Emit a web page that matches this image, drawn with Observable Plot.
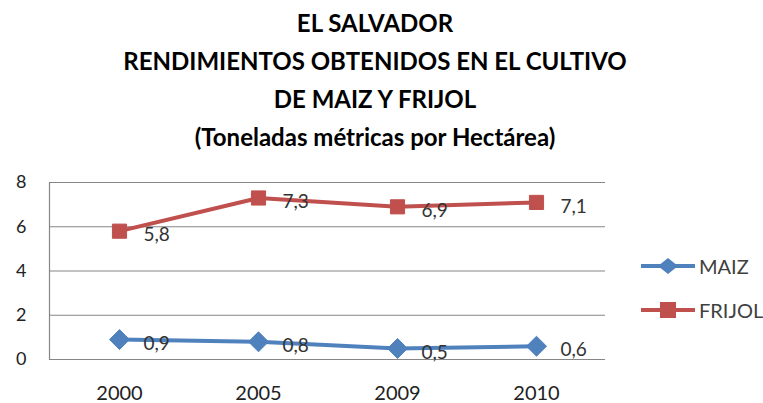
<!DOCTYPE html>
<html>
<head>
<meta charset="utf-8">
<script src="https://cdn.jsdelivr.net/npm/d3@7"></script>
<script src="https://cdn.jsdelivr.net/npm/@observablehq/plot@0.6"></script>
<style>
  html, body { margin: 0; padding: 0; background: #fff; overflow: hidden; }
  #wrap { position: relative; width: 763px; height: 403px; overflow: hidden; font-family: Lato, "Open Sans", sans-serif; }
  #title { position: absolute; left: 0; top: 4px; width: 750px; text-align: center; font-weight: bold; font-size: 24px; line-height: 38px; color: #000; }
  #chart { position: absolute; left: 0; top: 165px; }
  .leg { position: absolute; left: 639px; height: 24px; display: flex; align-items: center; font-size: 20px; color: #404040; white-space: nowrap; }
  .leg span { margin-left: 2px; }
</style>
</head>
<body>
<div id="wrap">
  <div id="title">EL SALVADOR<br>RENDIMIENTOS OBTENIDOS EN EL CULTIVO<br>DE MAIZ Y FRIJOL<br>(Toneladas métricas por Hectárea)</div>
  <div id="chart"></div>
  <div class="leg" style="top:254px"><svg width="58" height="24"><line x1="2" x2="56" y1="12" y2="12" stroke="#4F81BD" stroke-width="4"/><path d="M29,4 L39,12 L29,20 L19,12 Z" fill="#4F81BD"/></svg><span>MAIZ</span></div>
  <div class="leg" style="top:298px"><svg width="58" height="24"><line x1="2" x2="56" y1="12" y2="12" stroke="#C0504D" stroke-width="4"/><rect x="21" y="4" width="16" height="16" fill="#C0504D"/></svg><span>FRIJOL</span></div>
</div>
<script>
const years = ["2000", "2005", "2009", "2010"];
const maiz = [0.9, 0.8, 0.5, 0.6];
const frijol = [5.8, 7.3, 6.9, 7.1];
const yTicks = [0, 2, 4, 6, 8];

const rows = [];
years.forEach((yr, i) => {
  rows.push({year: yr, value: maiz[i], series: "MAIZ"});
  rows.push({year: yr, value: frijol[i], series: "FRIJOL"});
});
const fmt = v => String(v).replace(".", ",");

const chart = Plot.plot({
  width: 763,
  height: 238,
  marginLeft: 49,
  marginRight: 158,
  marginTop: 17,
  marginBottom: 44,
  style: {fontFamily: "Lato, 'Open Sans', sans-serif", fontSize: "16px", color: "#000", background: "transparent"},
  x: {type: "point", domain: years, padding: 0.5, label: null},
  y: {domain: [0, 8], label: null},
  color: {domain: ["MAIZ", "FRIJOL"], range: ["#4F81BD", "#C0504D"]},
  marks: [
    Plot.gridY(yTicks, {stroke: "#868686", strokeOpacity: 1, strokeWidth: 1.2}),
    Plot.frame({anchor: "left", stroke: "#868686", strokeWidth: 1.2}),
    Plot.axisY(yTicks, {tickSize: 0, tickPadding: 23, fontSize: 18, fill: "#222"}),
    Plot.axisX(years, {tickSize: 0, tickPadding: 26, fontSize: 20, fill: "#222"}),
    Plot.line(rows, {x: "year", y: "value", z: "series", stroke: "series", strokeWidth: 4}),
    Plot.dot(rows.filter(d => d.series === "MAIZ"), {x: "year", y: "value", symbol: "diamond2", r: 9, fill: "#4F81BD", stroke: "#4F81BD", strokeWidth: 1}),
    Plot.dot(rows.filter(d => d.series === "FRIJOL"), {x: "year", y: "value", symbol: "square2", r: 9, fill: "#C0504D", stroke: "#C0504D", strokeWidth: 1}),
    Plot.text(rows, {x: "year", y: "value", text: d => fmt(d.value), dx: 24, dy: 4, textAnchor: "start", fontSize: 19, fill: "#333", letterSpacing: 0.8})
  ]
});
document.getElementById("chart").appendChild(chart);
</script>
</body>
</html>
